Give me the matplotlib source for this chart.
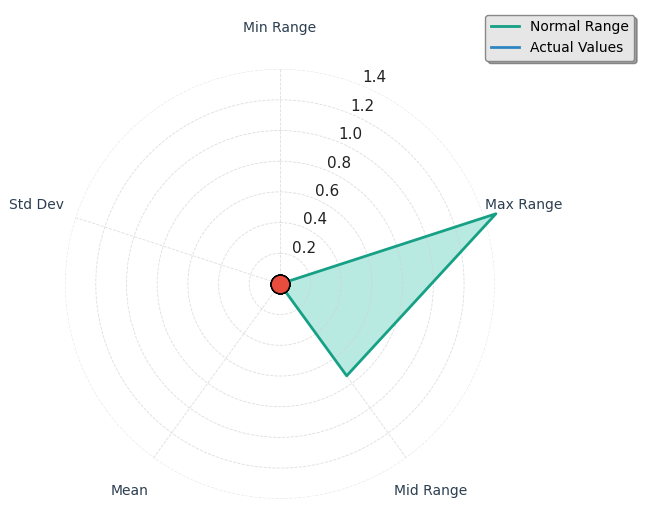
import numpy as np
import matplotlib
matplotlib.use("Agg")
import matplotlib.pyplot as plt

categories = ["Min Range", "Max Range", "Mid Range", "Mean", "Std Dev"]
normal_range = [0.0, 1.48, 0.74, 0.0, 0.0]
actual_values = [0.0, 0.0, 0.0, 0.0, 0.0]
rticks = [0.2, 0.4, 0.6, 0.8, 1.0, 1.2, 1.4]

n = len(categories)
angles = np.linspace(0, 2*np.pi, n, endpoint=False).tolist()
angles += angles[:1]
nr = normal_range + normal_range[:1]
av = actual_values + actual_values[:1]

fig = plt.figure(figsize=(6.51, 5.21), dpi=100)
ax = fig.add_axes([0.1, 0.04, 0.66, 0.83], polar=True)
ax.set_theta_offset(np.pi/2)
ax.set_theta_direction(-1)
ax.plot(angles, nr, color="#16a085", lw=2, label="Normal Range", clip_on=False)
ax.fill(angles, nr, color="#1abc9c", alpha=0.3, clip_on=False)
ax.plot(angles, av, color="#2e86c1", lw=2, label="Actual Values", clip_on=False)
ax.scatter(angles[:-1], actual_values, s=180, color="#e74c3c", edgecolor="black", zorder=5, clip_on=False)
ax.set_ylim(0, 1.4)
ax.set_yticks(rticks)
ax.set_yticklabels([f"{t:.1f}" for t in rticks], fontsize=11, color="#222222")
ax.set_rlabel_position(22.5)
ax.set_xticks(angles[:-1])
ax.set_xticklabels(categories, fontsize=10, color="#2c3e50")
ax.tick_params(axis="x", pad=19)
ax.spines["polar"].set_visible(False)
ax.grid(color="#d0d0d0", linestyle="--", linewidth=0.6, alpha=0.7)
fig.legend(*ax.get_legend_handles_labels(), loc="upper right", bbox_to_anchor=(0.985, 0.985),
           shadow=True, facecolor="#e6e6e6", edgecolor="#888888")
fig.savefig("out.png", dpi=100)
